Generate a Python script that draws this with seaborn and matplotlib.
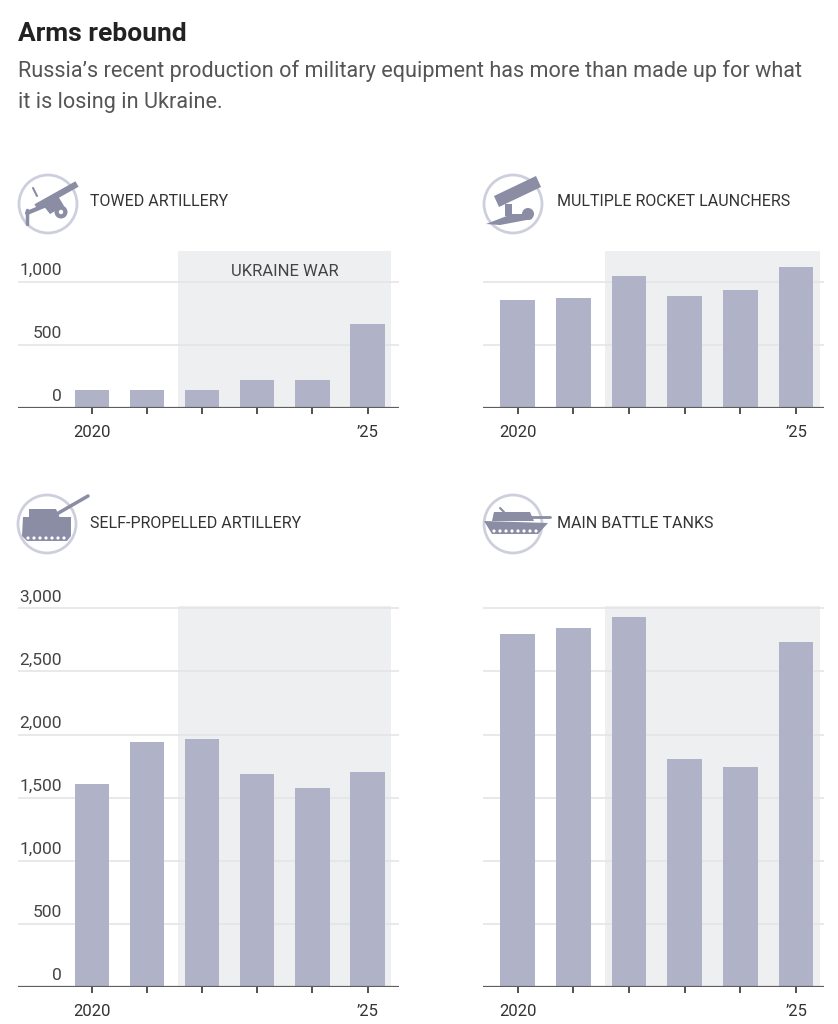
import numpy as np
import pandas as pd
import matplotlib
matplotlib.use("Agg")
import matplotlib.pyplot as plt
import matplotlib.patches as mpatches
from matplotlib import font_manager
import seaborn as sns

# ---- data -------------------------------------------------------------
years = [2020, 2021, 2022, 2023, 2024, 2025]
towed_artillery = [145, 145, 145, 220, 220, 665]
rocket_launchers = [860, 875, 1045, 885, 935, 1120]
self_propelled = [1605, 1940, 1965, 1685, 1580, 1705]
battle_tanks = [2795, 2845, 2930, 1805, 1740, 2735]

panel_titles = ["TOWED ARTILLERY", "MULTIPLE ROCKET LAUNCHERS",
                "SELF-PROPELLED ARTILLERY", "MAIN BATTLE TANKS"]
year_labels = ["2020", "", "", "", "", "\u201925"]
top_ticks = [0, 500, 1000]
bottom_ticks = [0, 500, 1000, 1500, 2000, 2500, 3000]
war_start, war_end = 2021.57, 2025.43

# ---- style ------------------------------------------------------------
sns.set_theme(style="white")
available = {f.name for f in font_manager.fontManager.ttflist}
family = "DejaVu Sans"
for cand in ["Roboto", "Noto Sans", "Lato", "Liberation Sans"]:
    if cand in available:
        family = cand
        break
plt.rcParams["font.family"] = [family, "DejaVu Sans"]

BAR = "#b0b3c8"
SHADE = "#eeeff1"
GRID = "#e5e5e7"
TEXT = "#333333"
ICON = "#8a8da3"
RING = "#cdd0dc"

fig = plt.figure(figsize=(8.38, 10.24), dpi=100)
W, H = 838, 1024


def px_axes(x0, x1, y_top, y_bot):
    return fig.add_axes([x0 / W, 1 - y_bot / H, (x1 - x0) / W, (y_bot - y_top) / H])


def draw_panel(ax, values, ticks, ytop, xlim, show_y, war_label=False):
    ax.axvspan(war_start, war_end, color=SHADE, zorder=0, lw=0)
    for t in ticks[1:]:
        ax.axhline(t, color=GRID, lw=1.2, zorder=0.5)
    df = pd.DataFrame({"year": years, "value": values})
    sns.barplot(data=df, x="year", y="value", native_scale=True, width=0.62,
                color=BAR, saturation=1, linewidth=0, ax=ax, zorder=2)
    ax.axhline(0, color="#5e5e5e", lw=1.6, zorder=3)
    ax.set_xlim(*xlim)
    ax.set_ylim(0, ytop)
    ax.set_xticks(years)
    ax.set_xticklabels(year_labels)
    ax.tick_params(axis="x", bottom=True, direction="out", length=4, width=1.2,
                   color="#333333", pad=8, labelsize=12, labelcolor=TEXT)
    ax.set_yticks([])
    ax.set_xlabel("")
    ax.set_ylabel("")
    for s in ax.spines.values():
        s.set_visible(False)
    ax.set_facecolor("none")
    if show_y:
        tr = matplotlib.transforms.blended_transform_factory(ax.transAxes, ax.transData)
        for t in ticks:
            ax.text(0.1147, t + 30, f"{t:,}", transform=tr, ha="right", va="bottom",
                    fontsize=12.5, color="#444444", clip_on=False)
    if war_label:
        ax.text((war_start + war_end) / 2, 1000 + 25, "UKRAINE WAR", ha="center",
                va="bottom", fontsize=12, color="#444444")


left_x = (18, 399)
right_x = (483, 824)
xlim_left = (2018.66, 2025.57)
xlim_right = (2019.38, 2025.5)

ax1 = px_axes(*left_x, 251, 408)
draw_panel(ax1, towed_artillery, top_ticks, 1245, xlim_left, True, war_label=True)
ax2 = px_axes(*right_x, 251, 408)
draw_panel(ax2, rocket_launchers, top_ticks, 1245, xlim_right, False)
ax3 = px_axes(*left_x, 606, 987)
draw_panel(ax3, self_propelled, bottom_ticks, 3018, xlim_left, True)
ax4 = px_axes(*right_x, 606, 987)
draw_panel(ax4, battle_tanks, bottom_ticks, 3018, xlim_right, False)

# ---- overlay for titles and icons (pixel coordinates) ----------------
ov = fig.add_axes([0, 0, 1, 1], zorder=10)
ov.set_xlim(0, W)
ov.set_ylim(H, 0)
ov.axis("off")
ov.patch.set_visible(False)

ov.text(18, 41, "Arms rebound", fontsize=19, fontweight="bold", color="#222222",
        va="baseline")
ov.text(18, 77, "Russia\u2019s recent production of military equipment has more than made up for what",
        fontsize=15.6, color="#555555", va="baseline")
ov.text(18, 108, "it is losing in Ukraine.", fontsize=15.6, color="#555555", va="baseline")

title_pos = [(90, 202), (557, 202), (90, 524), (557, 524)]
for (tx, ty), t in zip(title_pos, panel_titles):
    ov.text(tx, ty, t, fontsize=11.5, color=TEXT, va="center")


def ring(cx, cy):
    ov.add_patch(mpatches.Circle((cx, cy), 29, fill=False, ec=RING, lw=2))


def poly(pts, **kw):
    ov.add_patch(mpatches.Polygon(pts, closed=True, fc=ICON, ec="none", **kw))


# towed artillery
cx, cy = 48, 204
ring(cx, cy)
ov.plot([36, 77], [207, 184], color=ICON, lw=4.5, solid_capstyle="butt")
poly([(42, 204), (58, 196), (64, 206), (50, 214)])
ov.add_patch(mpatches.Circle((61, 212), 6.5, fc=ICON, ec="none"))
ov.add_patch(mpatches.Circle((61, 212), 2.2, fc="white", ec="none"))
ov.plot([27, 44], [213, 206], color=ICON, lw=3)
ov.plot([27, 27], [210, 224], color=ICON, lw=2.5)
ov.plot([33, 37], [188, 196], color=ICON, lw=1.5)

# multiple rocket launchers
cx, cy = 513, 204
ring(cx, cy)
poly([(494, 196), (536, 176), (541, 187), (499, 207)])
poly([(505, 204), (512, 204), (512, 216), (505, 216)])
poly([(486, 224), (512, 214), (532, 214), (532, 219), (500, 225)])
ov.add_patch(mpatches.Circle((528, 214), 6, fc=ICON, ec="none"))

# self-propelled artillery
cx, cy = 47, 524
ring(cx, cy)
poly([(23, 517), (71, 517), (71, 536), (67, 541), (27, 541), (22, 536)])
poly([(29, 509), (56, 509), (60, 518), (29, 518)])
ov.plot([55, 88], [515, 496], color=ICON, lw=2.5)
for x in range(28, 68, 6):
    ov.add_patch(mpatches.Circle((x, 538), 1.6, fc="white", ec="none"))

# main battle tank
cx, cy = 513, 524
ring(cx, cy)
poly([(484, 521), (548, 523), (538, 534), (492, 534)])
poly([(494, 512), (530, 512), (534, 521), (492, 521)])
ov.plot([528, 550], [517, 517], color=ICON, lw=2)
ov.plot([500, 504], [508, 512], color=ICON, lw=1.5)
for x in range(494, 538, 6):
    ov.add_patch(mpatches.Circle((x, 531), 1.6, fc="white", ec="none"))

fig.savefig("out.png", dpi=100, facecolor="white")
